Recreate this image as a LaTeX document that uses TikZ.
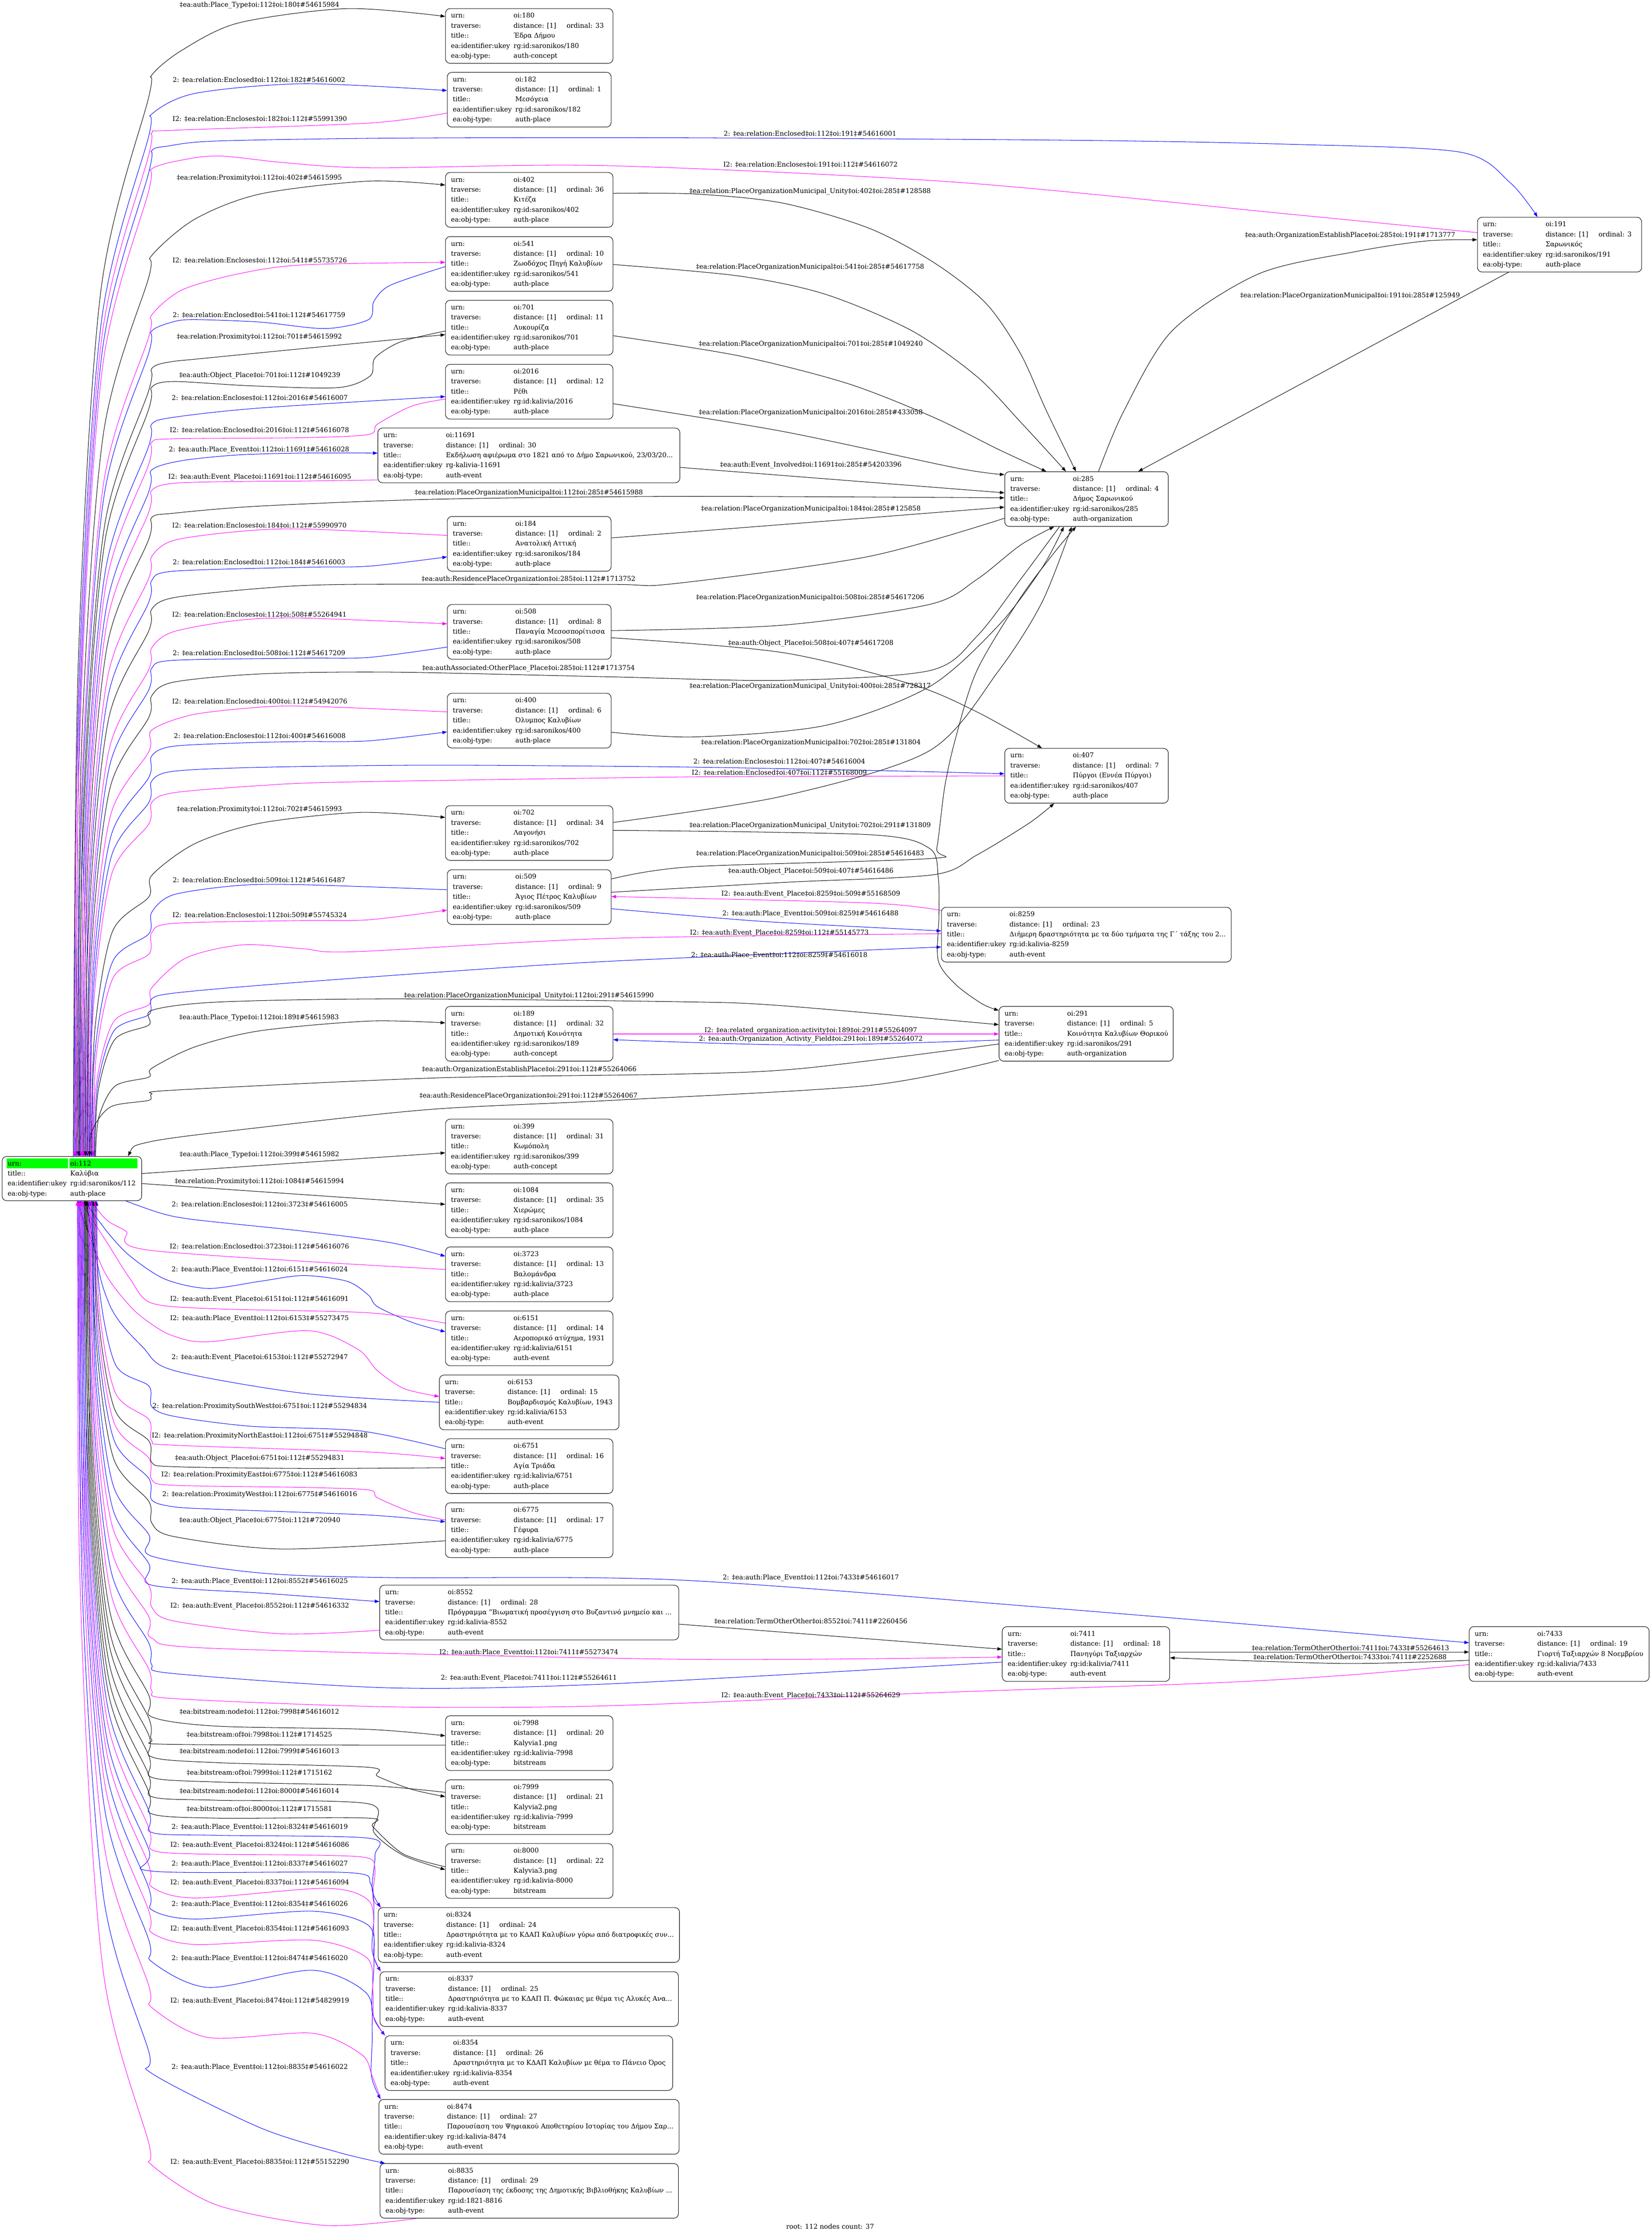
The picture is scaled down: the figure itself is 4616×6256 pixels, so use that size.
\documentclass[tikz,border=0pt]{standalone}
\usepackage{fontspec}
\setmainfont{DejaVu Serif}
\usetikzlibrary{arrows.meta,fit,calc}
\pgfdeclarelayer{bg}
\pgfsetlayers{bg,main}
\definecolor{gvblue}{RGB}{0,0,255}
\definecolor{gvmag}{RGB}{255,0,255}
\definecolor{gvgreen}{RGB}{0,255,0}
\newcommand\recnode[9]{%
  \node[box, fit={(#2,#3) ({#2+#4},{#3+153})}] (#1) {};
  \node[tx] (#1a) at ({#2+15},{#3+26}) {urn:};
  \node[tx] (#1b) at ({#2+190},{#3+26}) {#5};
  \node[tx] (#1c) at ({#2+15},{#3+54}) {traverse:};
  \node[tx] (#1d) at ({#2+190},{#3+54}) {distance: [1]};
  \node[tx] (#1e) at ({#2+338},{#3+54}) {ordinal: #6};
  \node[tx] (#1f) at ({#2+15},{#3+82}) {title::};
  \node[tx] (#1g) at ({#2+190},{#3+82}) {#7};
  \node[tx] (#1h) at ({#2+15},{#3+110}) {ea:identifier:ukey};
  \node[tx] (#1i) at ({#2+190},{#3+110}) {#8};
  \node[tx] (#1j) at ({#2+15},{#3+138}) {ea:obj-type:};
  \node[tx] (#1k) at ({#2+190},{#3+138}) {#9};}
\newcommand\elab[4]{\node[lab] (#1) at ({#2},{#3+6}) {#4};}
\newcommand\fanup[4]{%
  \pgfmathsetmacro\fdd{3231-#3}%
  \pgfmathsetmacro\fxa{#2+0.06*(424-#2)}%
  \pgfmathsetmacro\fya{3231-0.45*\fdd}%
  \pgfmathsetmacro\fxb{#2+0.35*(424-#2)}%
  \pgfmathsetmacro\fyb{#3+0.2*\fdd}%
  \pgfmathsetmacro\fyc{#3+min(60,0.1*\fdd)}%
  \edef\fantmp{\noexpand\draw[#1] plot[smooth,tension=.5] coordinates {(n112.north -| #2,0) (\fxa,\fya) (\fxb,\fyb) (416,\fyc) (424,#3) #4};}%
  \fantmp}
\newcommand\fandn[4]{%
  \pgfmathsetmacro\fdd{#3-3355}%
  \pgfmathsetmacro\fxa{#2+0.06*(424-#2)}%
  \pgfmathsetmacro\fya{3355+0.45*\fdd}%
  \pgfmathsetmacro\fxb{#2+0.35*(424-#2)}%
  \pgfmathsetmacro\fyb{#3-0.2*\fdd}%
  \pgfmathsetmacro\fyc{#3-min(60,0.1*\fdd)}%
  \edef\fantmp{\noexpand\draw[#1] plot[smooth,tension=.5] coordinates {(n112.south -| #2,0) (\fxa,\fya) (\fxb,\fyb) (416,\fyc) (424,#3) #4};}%
  \fantmp}
\begin{document}
\begin{tikzpicture}[x=0.5pt,y=-0.5pt,
  every node/.style={font=\fontsize{9.25pt}{11pt}\selectfont},
  box/.style={draw=black,line width=0.65pt,rounded corners=6.5pt,inner sep=0pt,fill=white},
  tx/.style={anchor=base west,inner sep=0pt},
  lab/.style={anchor=base,inner sep=0pt},
  blk/.style={draw=black,line width=0.65pt},
  blu/.style={draw=gvblue,line width=0.65pt},
  mag/.style={draw=gvmag,line width=0.65pt},
  tipe/.style={-{Triangle[length=6.5pt,width=4.6pt]}},
  tips/.style={{Triangle[length=6.5pt,width=4.6pt]}-}]
\useasboundingbox (0,0) rectangle (4616,6256);
% ---------- nodes ----------
\node[box, fit={(6,3231) (396,3355)}] (n112) {};
\fill[gvgreen] (19,3237) rectangle (190,3264);
\fill[gvgreen] (194,3237) rectangle (384,3264);
\node[tx] (n112a) at (21,3257) {urn:};
\node[tx] (n112b) at (196,3257) {oi:112};
\node[tx] (n112c) at (21,3285) {title::};
\node[tx] (n112d) at (196,3285) {Καλύβια};
\node[tx] (n112e) at (21,3313) {ea:identifier:ukey};
\node[tx] (n112f) at (196,3313) {rg:id:saronikos/112};
\node[tx] (n112g) at (21,3341) {ea:obj-type:};
\node[tx] (n112h) at (196,3341) {auth-place};
\recnode{n180}{1245}{24}{468}{oi:180}{33}{Έδρα Δήμου}{rg:id:saronikos/180}{auth-concept}
\recnode{n182}{1250}{202}{458}{oi:182}{1}{Μεσόγεια}{rg:id:saronikos/182}{auth-place}
\recnode{n402}{1245}{482}{468}{oi:402}{36}{Κιτέζα}{rg:id:saronikos/402}{auth-place}
\recnode{n541}{1245}{661}{468}{oi:541}{10}{Ζωοδόχος Πηγή Καλυβίων}{rg:id:saronikos/541}{auth-place}
\recnode{n701}{1245}{839}{468}{oi:701}{11}{Λυκουρίζα}{rg:id:saronikos/701}{auth-place}
\recnode{n2016}{1245}{1018}{468}{oi:2016}{12}{Ρέθι}{rg:id:kalivia/2016}{auth-place}
\recnode{n11691}{1056}{1196}{844}{oi:11691}{30}{Εκδήλωση αφιέρωμα στο 1821 από το Δήμο Σαρωνικού, 23/03/20...}{rg-kalivia-11691}{auth-event}
\recnode{n184}{1250}{1443}{458}{oi:184}{2}{Ανατολική Αττική}{rg:id:saronikos/184}{auth-place}
\recnode{n508}{1250}{1689}{458}{oi:508}{8}{Παναγία Μεσοσπορίτισσα}{rg:id:saronikos/508}{auth-place}
\recnode{n400}{1250}{1937}{458}{oi:400}{6}{Όλυμπος Καλυβίων}{rg:id:saronikos/400}{auth-place}
\recnode{n702}{1245}{2251}{468}{oi:702}{34}{Λαγονήσι}{rg:id:saronikos/702}{auth-place}
\recnode{n509}{1250}{2430}{458}{oi:509}{9}{Άγιος Πέτρος Καλυβίων}{rg:id:saronikos/509}{auth-place}
\recnode{n189}{1245}{2812}{468}{oi:189}{32}{Δημοτική Κοινότητα}{rg:id:saronikos/189}{auth-concept}
\recnode{n399}{1245}{3127}{468}{oi:399}{31}{Κωμόπολη}{rg:id:saronikos/399}{auth-concept}
\recnode{n1084}{1245}{3305}{468}{oi:1084}{35}{Χιερώμες}{rg:id:saronikos/1084}{auth-place}
\recnode{n3723}{1245}{3484}{468}{oi:3723}{13}{Βαλομάνδρα}{rg:id:kalivia/3723}{auth-place}
\recnode{n6151}{1245}{3663}{468}{oi:6151}{14}{Αεροπορικό ατύχημα, 1931}{rg:id:kalivia/6151}{auth-event}
\recnode{n6153}{1228}{3842}{502}{oi:6153}{15}{Βομβαρδισμός Καλυβίων, 1943}{rg:id:kalivia/6153}{auth-event}
\recnode{n6751}{1245}{4020}{468}{oi:6751}{16}{Αγία Τριάδα}{rg:id:kalivia/6751}{auth-place}
\recnode{n6775}{1245}{4199}{468}{oi:6775}{17}{Γέφυρα}{rg:id:kalivia/6775}{auth-place}
\recnode{n8552}{1061}{4429}{836}{oi:8552}{28}{Πρόγραμμα "Βιωματική προσέγγιση στο Βυζαντινό μνημείο και ...}{rg:id:kalivia-8552}{auth-event}
\recnode{n7998}{1245}{4794}{468}{oi:7998}{20}{Kalyvia1.png}{rg:id:kalivia-7998}{bitstream}
\recnode{n7999}{1245}{4973}{468}{oi:7999}{21}{Kalyvia2.png}{rg:id:kalivia-7999}{bitstream}
\recnode{n8000}{1245}{5151}{468}{oi:8000}{22}{Kalyvia3.png}{rg:id:kalivia-8000}{bitstream}
\recnode{n8324}{1057}{5330}{842}{oi:8324}{24}{Δραστηριότητα με το ΚΔΑΠ Καλυβίων γύρω από διατροφικές συν...}{rg:id:kalivia-8324}{auth-event}
\recnode{n8337}{1062}{5509}{834}{oi:8337}{25}{Δραστηριότητα με το ΚΔΑΠ Π. Φώκαιας με θέμα τις Αλυκές Ανα...}{rg:id:kalivia-8337}{auth-event}
\recnode{n8354}{1076}{5688}{804}{oi:8354}{26}{Δραστηριότητα με το ΚΔΑΠ Καλυβίων με θέμα το Πάνειο Όρος}{rg:id:kalivia-8354}{auth-event}
\recnode{n8474}{1059}{5866}{839}{oi:8474}{27}{Παρουσίαση του Ψηφιακού Αποθετηρίου Ιστορίας του Δήμου Σαρ...}{rg:id:kalivia-8474}{auth-event}
\recnode{n8835}{1062}{6045}{834}{oi:8835}{29}{Παρουσίαση της έκδοσης της Δημοτικής Βιβλιοθήκης Καλυβίων ...}{rg:id:1821-8816}{auth-event}
\recnode{n191}{4129}{607}{459}{oi:191}{3}{Σαρωνικός}{rg:id:saronikos/191}{auth-place}
\recnode{n285}{2808}{1318}{457}{oi:285}{4}{Δήμος Σαρωνικού}{rg:id:saronikos/285}{auth-organization}
\recnode{n407}{2808}{2091}{457}{oi:407}{7}{Πύργοι (Εννέα Πύργοι)}{rg:id:saronikos/407}{auth-place}
\recnode{n8259}{2631}{2535}{810}{oi:8259}{23}{Διήμερη δραστηριότητα με τα δύο τμήματα της Γ΄ τάξης του 2...}{rg:id:kalivia-8259}{auth-event}
\recnode{n291}{2792}{2812}{487}{oi:291}{5}{Κοινότητα Καλυβίων Θορικού}{rg:id:saronikos/291}{auth-organization}
\recnode{n7411}{2801}{4545}{468}{oi:7411}{18}{Πανηγύρι Ταξιαρχών}{rg:id:kalivia/7411}{auth-event}
\recnode{n7433}{4106}{4545}{503}{oi:7433}{19}{Γιορτή Ταξιαρχών 8 Νοεμβρίου}{rg:id:kalivia/7433}{auth-event}
% ---------- edges ----------
\begin{pgfonlayer}{bg}
\fill[white] (0,0) rectangle (4616,6256);
% upper fan
\fanup{blk,tipe}{205}{210}{(509,140) (667,64) (970,24) (n180.west |- 0,46)}
\fanup{blu,tipe}{207}{319}{(545,261) (848,234) (n182.west |- 0,253)}
\fanup{mag,tips}{209}{372}{(485,364) (1030,344) (n182.west |- 0,316)}
\fanup{blu,tipe}{211}{421}{(470,408) (606,394) (1100,386) (1900,385) (3000,392) (3600,403) (4080,425) (4220,510) (n191.north -| 4297,0)}
\fanup{mag,tips}{213}{472}{(520,445) (618,436) (800,455) (1042,469) (1700,463) (2670,509) (3600,598) (n191.west |- 0,650)}
\fanup{blk,tipe}{215}{714}{(545,612) (727,542) (1030,506) (n402.west |- 0,517)}
\fanup{mag,tipe}{217}{880}{(509,810) (667,765) (848,740) (n541.west |- 0,733)}
\fanup{blu,tips}{219}{925}{(485,899) (545,893) (727,900) (909,918) (1030,893) (1045,842) (1091,797) (n541.west |- 0,745)}
\fanup{blk,tipe}{221}{1030}{(470,1012) (582,1000) (n701.west |- 0,935)}
\fanup{blk,tips}{223}{1082}{(485,1066) (700,1078) (945,1083) (1035,1050) (1048,1000) (1120,955) (n701.west |- 0,925)}
\fanup{blu,tipe}{225}{1185}{(485,1166) (727,1140) (n2016.west |- 0,1108)}
\fanup{mag,tips}{227}{1236}{(485,1226) (848,1223) (1030,1214) (1055,1185) (1150,1135) (n2016.west |- 0,1115)}
\fanup{blu,tipe}{229}{1313}{(509,1287) (667,1271) (848,1266) (n11691.west |- 0,1266)}
\fanup{mag,tips}{231}{1370}{(490,1350) (700,1345) (848,1344) (n11691.west |- 0,1341)}
\fanup{blk,tipe}{233}{1446}{(485,1434) (727,1414) (1212,1395) (1900,1387) (n285.west |- 0,1391)}
\fanup{mag,tips}{235}{1555}{(485,1510) (667,1485) (848,1478) (n184.west |- 0,1496)}
\fanup{blu,tipe}{237}{1622}{(485,1596) (848,1585) (1030,1582) (n184.west |- 0,1556)}
\fanup{blk,tips}{239}{1702}{(485,1670) (727,1644) (970,1633) (1700,1633) (1882,1631) (2427,1555) (n285.west |- 0,1448)}
\fanup{mag,tipe}{241}{1810}{(485,1765) (667,1733) (848,1727) (n508.west |- 0,1743)}
\fanup{blu,tips}{243}{1867}{(485,1845) (848,1839) (1030,1837) (n508.west |- 0,1808)}
\fanup{blk,tips}{245}{1944}{(485,1906) (727,1883) (1091,1878) (1700,1891) (2185,1901) (2597,1874) (2730,1778) (2852,1619) (n285.south -| 2961,0)}
\fanup{mag,tips}{247}{2040}{(533,1998) (700,1978) (848,1973) (n400.west |- 0,1989)}
\fanup{blu,tipe}{249}{2112}{(485,2085) (700,2075) (848,2072) (1030,2070) (n400.west |- 0,2045)}
\fanup{blu,tipe}{251}{2182}{(485,2155) (727,2144) (1212,2138) (1900,2143) (2452,2153) (n407.west |- 0,2162)}
\fanup{mag,tips}{253}{2242}{(485,2215) (727,2195) (970,2185) (1900,2171) (2400,2169) (n407.west |- 0,2168)}
\fanup{blk,tipe}{255}{2446}{(545,2357) (727,2300) (1006,2270) (n702.west |- 0,2284)}
\fanup{blu,tips}{257}{2549}{(485,2500) (667,2474) (848,2472) (n509.west |- 0,2486)}
\fanup{mag,tipe}{259}{2606}{(485,2580) (848,2572) (1030,2570) (n509.west |- 0,2543)}
\fanup{mag,tips}{261}{2760}{(521,2676) (679,2640) (848,2651) (994,2659) (1700,2622) (n8259.west |- 0,2609)}
\fanup{blu,tipe}{263}{2791}{(485,2775) (727,2753) (1200,2718) (1700,2686) (n8259.west |- 0,2646)}
\fanup{blk,tipe}{265}{2823}{(606,2800) (1091,2791) (1900,2799) (2185,2810) (n291.west |- 0,2863)}
\fanup{blk,tipe}{267}{2985}{(545,2925) (727,2880) (1030,2853) (n189.west |- 0,2858)}
\fanup{blk,tips}{250}{3057}{(485,3046) (1212,3012) (1900,3001) (2245,2985) (n291.west |- 0,2917)}
\draw[blk,tips] plot[smooth,tension=.5] coordinates {(n112.north -| 358,0) (420,3190) (703,3153) (1200,3100) (1700,3075) (2427,3033) (n291.west |- 0,2963)};
% right side
\draw[blk,tipe] plot[smooth,tension=.5] coordinates {(n402.east |- 0,540) (1942,542) (2185,567) (2427,637) (2609,733) (2755,847) (2852,988) (2924,1147) (n285.north -| 3007,0)};
\draw[blk,tipe] plot[smooth,tension=.5] coordinates {(n541.east |- 0,739) (2064,771) (2306,822) (2548,924) (2730,1052) (2852,1179) (n285.north -| 2979,0)};
\draw[blk,tipe] plot[smooth,tension=.5] coordinates {(n701.east |- 0,938) (2064,994) (2367,1071) (2609,1166) (2791,1256) (n285.north -| 2924,0)};
\draw[blk,tipe] plot[smooth,tension=.5] coordinates {(n2016.east |- 0,1128) (2185,1205) (2670,1307) (n285.west |- 0,1326)};
\draw[blk,tipe] (n11691.east |- 0,1306) -- (n285.west |- 0,1377);
\draw[blk,tipe] (n184.east |- 0,1503) -- (n285.west |- 0,1417);
\draw[blk,tipe] plot[smooth,tension=.5] coordinates {(n508.east |- 0,1762) (2185,1747) (2597,1689) (2730,1619) (2852,1523) (n285.south -| 2946,0)};
\draw[blk,tipe] plot[smooth,tension=.5] coordinates {(n508.east |- 0,1782) (2185,1823) (2548,1912) (2730,1989) (n407.north -| 2912,0)};
\draw[blk,tipe] plot[smooth,tension=.5] coordinates {(n400.east |- 0,2046) (1942,2059) (2306,2027) (2597,1919) (2791,1747) (2912,1587) (n285.south -| 2973,0)};
\draw[blk,tipe] plot[smooth,tension=.5] coordinates {(n702.east |- 0,2298) (2185,2225) (2597,2098) (2791,1874) (2912,1683) (n285.south -| 2995,0)};
\draw[blk,tipe] plot[smooth,tension=.5] coordinates {(n702.east |- 0,2320) (2427,2332) (2597,2370) (2622,2450) (2624,2560) (2622,2683) (2670,2750) (2745,2805) (n291.west |- 0,2823)};
\draw[blk,tipe] plot[smooth,tension=.5] coordinates {(n509.east |- 0,2456) (1930,2422) (2597,2399) (2618,2370) (2640,2200) (2670,2065) (2730,1874) (2852,1670) (2948,1542) (n285.south -| 3007,0)};
\draw[blk,tipe] plot[smooth,tension=.5] coordinates {(n509.east |- 0,2493) (2200,2465) (2609,2444) (2730,2389) (2876,2300) (n407.south -| 2946,0)};
\draw[mag,tipe] plot[smooth,tension=.5] coordinates {(n8259.west |- 0,2544) (2427,2523) (n509.east |- 0,2505)};
\draw[blu,tipe] plot[smooth,tension=.5] coordinates {(n509.east |- 0,2539) (2124,2574) (n8259.west |- 0,2601)};
\draw[mag,tipe] (n189.east |- 0,2889) -- (n291.west |- 0,2889);
\draw[blu,tipe] plot[smooth,tension=.5] coordinates {(n291.west |- 0,2906) (2245,2920) (n189.east |- 0,2905)};
\draw[blk,tipe] (n191.south -| 4216,0) -- (n285.north -| 3181,0);
\draw[blk,tipe] plot[smooth,tension=.5] coordinates {(n285.north -| 3070,0) (3140,1150) (3276,924) (3518,765) (3794,702) (3989,673) (n191.west |- 0,670)};
\draw[blk,tipe] (n8552.east |- 0,4538) -- (n7411.west |- 0,4608);
\draw[blk,tipe] (n7411.east |- 0,4616) -- (n7433.west |- 0,4616);
\draw[blk,tipe] plot[smooth,tension=.5] coordinates {(n7433.west |- 0,4639) (3757,4648) (n7411.east |- 0,4632)};
% lower, near root
\draw[blk,tipe] (n112.east |- 0,3279) -- (n399.west |- 0,3221);
\draw[blk,tipe] (n112.east |- 0,3307) -- (n1084.west |- 0,3365);
\draw[blu,tipe] plot[smooth,tension=.5] coordinates {(n112.south -| 352,0) (450,3390) (545,3408) (848,3440) (1091,3472) (n3723.west |- 0,3510)};
\draw[mag,tips] plot[smooth,tension=.5] coordinates {(n112.south -| 255,0) (300,3410) (352,3440) (424,3494) (n3723.west |- 0,3547)};
\draw[blu,tipe] plot[smooth,tension=.5] coordinates {(n112.south -| 236,0) (303,3446) (364,3510) (461,3574) (582,3600) (727,3580) (848,3564) (970,3580) (1030,3619) (1055,3651) (1152,3695) (n6151.west |- 0,3721)};
\draw[mag,tips] plot[smooth,tension=.5] coordinates {(n112.south -| 224,0) (303,3478) (364,3574) (424,3641) (606,3657) (1030,3668) (n6151.west |- 0,3697)};
\draw[mag,tipe] plot[smooth,tension=.5] coordinates {(n112.south -| 215,0) (290,3550) (364,3650) (424,3700) (485,3733) (582,3749) (861,3718) (1000,3770) (1055,3830) (1130,3880) (n6153.west |- 0,3902)};
\draw[blu,tips] plot[smooth,tension=.5] coordinates {(n112.south -| 240,0) (303,3638) (400,3765) (485,3829) (848,3893) (n6153.west |- 0,3918)};
% lower fan
\fandn{blu,tips}{270}{3930}{(485,3957) (700,3985) (1006,3998) (n6751.west |- 0,4048)}
\fandn{mag,tipe}{268}{4026}{(485,4038) (1030,4057) (n6751.west |- 0,4075)}
\fandn{blk,tips}{266}{4086}{(485,4098) (848,4103) (n6751.west |- 0,4101)}
\fandn{mag,tips}{264}{4134}{(485,4150) (848,4156) (1030,4163) (1055,4185) (1150,4225) (n6775.west |- 0,4247)}
\fandn{blu,tipe}{262}{4191}{(485,4210) (606,4217) (1030,4233) (n6775.west |- 0,4252)}
\fandn{blk,tips}{260}{4255}{(485,4293) (788,4328) (n6775.west |- 0,4305)}
\fandn{blu,tipe}{258}{4348}{(727,4395) (1091,4408) (1884,4414) (2900,4490) (n7433.west |- 0,4590)}
\fandn{blu,tipe}{256}{4429}{(742,4452) (n8552.west |- 0,4475)}
\fandn{mag,tips}{254}{4490}{(485,4529) (788,4565) (n8552.west |- 0,4555)}
\fandn{mag,tipe}{252}{4577}{(606,4606) (1900,4636) (n7411.west |- 0,4630)}
\fandn{blu,tips}{250}{4651}{(485,4676) (1091,4716) (1700,4705) (n7411.west |- 0,4644)}
\fandn{mag,tips}{248}{4724}{(485,4746) (1091,4769) (1700,4766) (2600,4730) (3371,4703) (3757,4681) (n7433.west |- 0,4651)}
\fandn{blk,tipe}{246}{4797}{(606,4823) (1030,4832) (n7998.west |- 0,4850)}
\fandn{blk,tips}{244}{4861}{(485,4874) (n7998.west |- 0,4876)}
\fandn{blk,tipe}{242}{4909}{(606,4925) (1030,4938) (1055,4963) (1152,5000) (n7999.west |- 0,5020)}
\fandn{blk,tips}{240}{4966}{(606,4979) (1030,4989) (n7999.west |- 0,5008)}
\fandn{blk,tipe}{238}{5020}{(606,5030) (1030,5040) (1045,5120) (1127,5184) (n8000.west |- 0,5224)}
\fandn{blk,tips}{236}{5068}{(606,5080) (1030,5080) (1042,5104) (1127,5180) (n8000.west |- 0,5216)}
\fandn{blu,tipe}{234}{5120}{(606,5128) (1030,5136) (1048,5184) (1040,5280) (n8324.north -| 1064,0)}
\fandn{mag,tips}{232}{5168}{(545,5180) (909,5184) (1030,5192) (1048,5224) (1042,5304) (n8324.north -| 1064,0)}
\fandn{blu,tipe}{230}{5228}{(970,5232) (1036,5264) (1045,5350) (1040,5450) (n8337.north -| 1064,0)}
\fandn{mag,tips}{228}{5272}{(545,5303) (909,5276) (1030,5310) (1045,5400) (1045,5470) (n8337.north -| 1064,0)}
\fandn{blu,tipe}{226}{5336}{(545,5362) (873,5340) (1030,5380) (1045,5480) (1040,5620) (n8354.north -| 1076,0)}
\fandn{mag,tips}{224}{5400}{(545,5433) (873,5421) (1025,5470) (1042,5560) (1045,5640) (n8354.north -| 1076,0)}
\fandn{blu,tipe}{222}{5481}{(582,5553) (873,5505) (1025,5570) (1040,5680) (1038,5800) (n8474.north -| 1064,0)}
\fandn{mag,tips}{220}{5609}{(582,5693) (873,5681) (1010,5740) (1040,5800) (n8474.north -| 1064,0)}
\fandn{blu,tipe}{218}{5793}{(727,5945) (950,6015) (n8835.north -| 1076,0)}
\fandn{mag,tips}{216}{6049}{(606,6161) (909,6218) (n8835.south -| 1164,0)}
\end{pgfonlayer}
% ---------- labels ----------
\elab{lu1}{725}{13}{‡ea:auth:Place\_Type‡oi:112‡oi:180‡\#54615984}
\elab{lu2}{724}{224}{2: ‡ea:relation:Enclosed‡oi:112‡oi:182‡\#54616002}
\elab{lu3}{726}{333}{I2: ‡ea:relation:Encloses‡oi:182‡oi:112‡\#55991390}
\elab{lu4}{2264}{374}{2: ‡ea:relation:Enclosed‡oi:112‡oi:191‡\#54616001}
\elab{lu5}{2265}{460}{I2: ‡ea:relation:Encloses‡oi:191‡oi:112‡\#54616072}
\elab{lu6}{725}{496}{‡ea:relation:Proximity‡oi:112‡oi:402‡\#54615995}
\elab{lu7}{726}{728}{I2: ‡ea:relation:Encloses‡oi:112‡oi:541‡\#55735726}
\elab{lu8}{724}{881}{2: ‡ea:relation:Enclosed‡oi:541‡oi:112‡\#54617759}
\elab{lu9}{725}{941}{‡ea:relation:Proximity‡oi:112‡oi:701‡\#54615992}
\elab{lu10}{726}{1048}{‡ea:auth:Object\_Place‡oi:701‡oi:112‡\#1049239}
\elab{lu11}{726}{1112}{2: ‡ea:relation:Encloses‡oi:112‡oi:2016‡\#54616007}
\elab{lu12}{725}{1202}{I2: ‡ea:relation:Enclosed‡oi:2016‡oi:112‡\#54616078}
\elab{lu13}{724}{1256}{2: ‡ea:auth:Place\_Event‡oi:112‡oi:11691‡\#54616028}
\elab{lu14}{726}{1332}{I2: ‡ea:auth:Event\_Place‡oi:11691‡oi:112‡\#54616095}
\elab{lu15}{1478}{1376}{‡ea:relation:PlaceOrganizationMunicipal‡oi:112‡oi:285‡\#54615988}
\elab{lu16}{725}{1469}{I2: ‡ea:relation:Encloses‡oi:184‡oi:112‡\#55990970}
\elab{lu17}{724}{1571}{2: ‡ea:relation:Enclosed‡oi:112‡oi:184‡\#54616003}
\elab{lu18}{1477}{1617}{‡ea:auth:ResidencePlaceOrganization‡oi:285‡oi:112‡\#1713752}
\elab{lu19}{725}{1718}{I2: ‡ea:relation:Encloses‡oi:112‡oi:508‡\#55264941}
\elab{lu20}{724}{1825}{2: ‡ea:relation:Enclosed‡oi:508‡oi:112‡\#54617209}
\elab{lu21}{1477}{1866}{‡ea:authAssociated:OtherPlace\_Place‡oi:285‡oi:112‡\#1713754}
\elab{lu22}{726}{1960}{I2: ‡ea:relation:Enclosed‡oi:400‡oi:112‡\#54942076}
\elab{lu23}{726}{2057}{2: ‡ea:relation:Encloses‡oi:112‡oi:400‡\#54616008}
\elab{lu24}{2178}{2128}{2: ‡ea:relation:Encloses‡oi:112‡oi:407‡\#54616004}
\elab{lu25}{2178}{2159}{I2: ‡ea:relation:Enclosed‡oi:407‡oi:112‡\#55168009}
\elab{lu26}{725}{2260}{‡ea:relation:Proximity‡oi:112‡oi:702‡\#54615993}
\elab{lu27}{724}{2460}{2: ‡ea:relation:Enclosed‡oi:509‡oi:112‡\#54616487}
\elab{lu28}{726}{2557}{I2: ‡ea:relation:Encloses‡oi:112‡oi:509‡\#55745324}
\elab{lu29}{2178}{2606}{I2: ‡ea:auth:Event\_Place‡oi:8259‡oi:112‡\#55145773}
\elab{lu30}{2178}{2668}{2: ‡ea:auth:Place\_Event‡oi:112‡oi:8259‡\#54616018}
\elab{lu31}{1478}{2781}{‡ea:relation:PlaceOrganizationMunicipal\_Unity‡oi:112‡oi:291‡\#54615990}
\elab{lu32}{724}{2842}{‡ea:auth:Place\_Type‡oi:112‡oi:189‡\#54615983}
\elab{lu33}{1479}{2988}{‡ea:auth:OrganizationEstablishPlace‡oi:291‡oi:112‡\#55264066}
\elab{lu34}{1477}{3061}{‡ea:auth:ResidencePlaceOrganization‡oi:291‡oi:112‡\#55264067}
\elab{lr1}{2264}{534}{‡ea:relation:PlaceOrganizationMunicipal\_Unity‡oi:402‡oi:285‡\#128588}
\elab{lr2}{2264}{745}{‡ea:relation:PlaceOrganizationMunicipal‡oi:541‡oi:285‡\#54617758}
\elab{lr3}{2266}{960}{‡ea:relation:PlaceOrganizationMunicipal‡oi:701‡oi:285‡\#1049240}
\elab{lr4}{2266}{1152}{‡ea:relation:PlaceOrganizationMunicipal‡oi:2016‡oi:285‡\#433058}
\elab{lr5}{2266}{1298}{‡ea:auth:Event\_Involved‡oi:11691‡oi:285‡\#54203396}
\elab{lr6}{2266}{1421}{‡ea:relation:PlaceOrganizationMunicipal‡oi:184‡oi:285‡\#125858}
\elab{lr7}{2264}{1669}{‡ea:relation:PlaceOrganizationMunicipal‡oi:508‡oi:285‡\#54617206}
\elab{lr8}{2266}{1796}{‡ea:auth:Object\_Place‡oi:508‡oi:407‡\#54617208}
\elab{lr9}{2264}{1916}{‡ea:relation:PlaceOrganizationMunicipal\_Unity‡oi:400‡oi:285‡\#728317}
\elab{lr10}{2266}{2074}{‡ea:relation:PlaceOrganizationMunicipal‡oi:702‡oi:285‡\#131804}
\elab{lr11}{2264}{2306}{‡ea:relation:PlaceOrganizationMunicipal\_Unity‡oi:702‡oi:291‡\#131809}
\elab{lr12}{2264}{2384}{‡ea:relation:PlaceOrganizationMunicipal‡oi:509‡oi:285‡\#54616483}
\elab{lr13}{2266}{2433}{‡ea:auth:Object\_Place‡oi:509‡oi:407‡\#54616486}
\elab{lr14}{2266}{2497}{I2: ‡ea:auth:Event\_Place‡oi:8259‡oi:509‡\#55168509}
\elab{lr15}{2265}{2552}{2: ‡ea:auth:Place\_Event‡oi:509‡oi:8259‡\#54616488}
\elab{lr16}{2266}{2878}{I2: ‡ea:related\_organization:activity‡oi:189‡oi:291‡\#55264097}
\elab{lr17}{2266}{2903}{2: ‡ea:auth:Organization\_Activity\_Field‡oi:291‡oi:189‡\#55264072}
\elab{lr18}{3773}{826}{‡ea:relation:PlaceOrganizationMunicipal‡oi:191‡oi:285‡\#125949}
\elab{lr19}{3773}{656}{‡ea:auth:OrganizationEstablishPlace‡oi:285‡oi:191‡\#1713777}
\elab{lr20}{2266}{4530}{‡ea:relation:TermOtherOther‡oi:8552‡oi:7411‡\#2260456}
\elab{lr21}{3774}{4605}{‡ea:relation:TermOtherOther‡oi:7411‡oi:7433‡\#55264613}
\elab{lr22}{3773}{4630}{‡ea:relation:TermOtherOther‡oi:7433‡oi:7411‡\#2252688}
\elab{ll1}{725}{3225}{‡ea:auth:Place\_Type‡oi:112‡oi:399‡\#54615982}
\elab{ll2}{725}{3300}{‡ea:relation:Proximity‡oi:112‡oi:1084‡\#54615994}
\elab{ll3}{726}{3365}{2: ‡ea:relation:Encloses‡oi:112‡oi:3723‡\#54616005}
\elab{ll4}{725}{3483}{I2: ‡ea:relation:Enclosed‡oi:3723‡oi:112‡\#54616076}
\elab{ll5}{726}{3547}{2: ‡ea:auth:Place\_Event‡oi:112‡oi:6151‡\#54616024}
\elab{ll6}{725}{3629}{I2: ‡ea:auth:Event\_Place‡oi:6151‡oi:112‡\#54616091}
\elab{ll7}{725}{3683}{I2: ‡ea:auth:Place\_Event‡oi:112‡oi:6153‡\#55273475}
\elab{ll8}{726}{3792}{2: ‡ea:auth:Event\_Place‡oi:6153‡oi:112‡\#55272947}
\elab{ll9}{726}{3928}{2: ‡ea:relation:ProximitySouthWest‡oi:6751‡oi:112‡\#55294834}
\elab{ll10}{726}{4011}{I2: ‡ea:relation:ProximityNorthEast‡oi:112‡oi:6751‡\#55294848}
\elab{ll11}{726}{4073}{‡ea:auth:Object\_Place‡oi:6751‡oi:112‡\#55294831}
\elab{ll12}{725}{4120}{I2: ‡ea:relation:ProximityEast‡oi:6775‡oi:112‡\#54616083}
\elab{ll13}{726}{4175}{2: ‡ea:relation:ProximityWest‡oi:112‡oi:6775‡\#54616016}
\elab{ll14}{726}{4247}{‡ea:auth:Object\_Place‡oi:6775‡oi:112‡\#720940}
\elab{ll15}{2266}{4407}{2: ‡ea:auth:Place\_Event‡oi:112‡oi:7433‡\#54616017}
\elab{ll16}{726}{4418}{2: ‡ea:auth:Place\_Event‡oi:112‡oi:8552‡\#54616025}
\elab{ll17}{726}{4486}{I2: ‡ea:auth:Event\_Place‡oi:8552‡oi:112‡\#54616332}
\elab{ll18}{1478}{4616}{I2: ‡ea:auth:Place\_Event‡oi:112‡oi:7411‡\#55273474}
\elab{ll19}{1478}{4688}{2: ‡ea:auth:Event\_Place‡oi:7411‡oi:112‡\#55264611}
\elab{ll20}{2266}{4736}{I2: ‡ea:auth:Event\_Place‡oi:7433‡oi:112‡\#55264629}
\elab{ll21}{725}{4783}{‡ea:bitstream:node‡oi:112‡oi:7998‡\#54616012}
\elab{ll22}{725}{4847}{‡ea:bitstream:of‡oi:7998‡oi:112‡\#1714525}
\elab{ll23}{725}{4893}{‡ea:bitstream:node‡oi:112‡oi:7999‡\#54616013}
\elab{ll24}{725}{4953}{‡ea:bitstream:of‡oi:7999‡oi:112‡\#1715162}
\elab{ll25}{725}{5004}{‡ea:bitstream:node‡oi:112‡oi:8000‡\#54616014}
\elab{ll26}{725}{5054}{‡ea:bitstream:of‡oi:8000‡oi:112‡\#1715581}
\elab{ll27}{726}{5105}{2: ‡ea:auth:Place\_Event‡oi:112‡oi:8324‡\#54616019}
\elab{ll28}{726}{5155}{I2: ‡ea:auth:Event\_Place‡oi:8324‡oi:112‡\#54616086}
\elab{ll29}{726}{5207}{2: ‡ea:auth:Place\_Event‡oi:112‡oi:8337‡\#54616027}
\elab{ll30}{726}{5260}{I2: ‡ea:auth:Event\_Place‡oi:8337‡oi:112‡\#54616094}
\elab{ll31}{726}{5320}{2: ‡ea:auth:Place\_Event‡oi:112‡oi:8354‡\#54616026}
\elab{ll32}{726}{5388}{I2: ‡ea:auth:Event\_Place‡oi:8354‡oi:112‡\#54616093}
\elab{ll33}{726}{5471}{2: ‡ea:auth:Place\_Event‡oi:112‡oi:8474‡\#54616020}
\elab{ll34}{726}{5590}{I2: ‡ea:auth:Event\_Place‡oi:8474‡oi:112‡\#54829919}
\elab{ll35}{726}{5775}{2: ‡ea:auth:Place\_Event‡oi:112‡oi:8835‡\#54616022}
\elab{ll36}{726}{6040}{I2: ‡ea:auth:Event\_Place‡oi:8835‡oi:112‡\#55152290}
\elab{cap}{2320}{6222}{root: 112 nodes count: 37}
\end{tikzpicture}
\end{document}
